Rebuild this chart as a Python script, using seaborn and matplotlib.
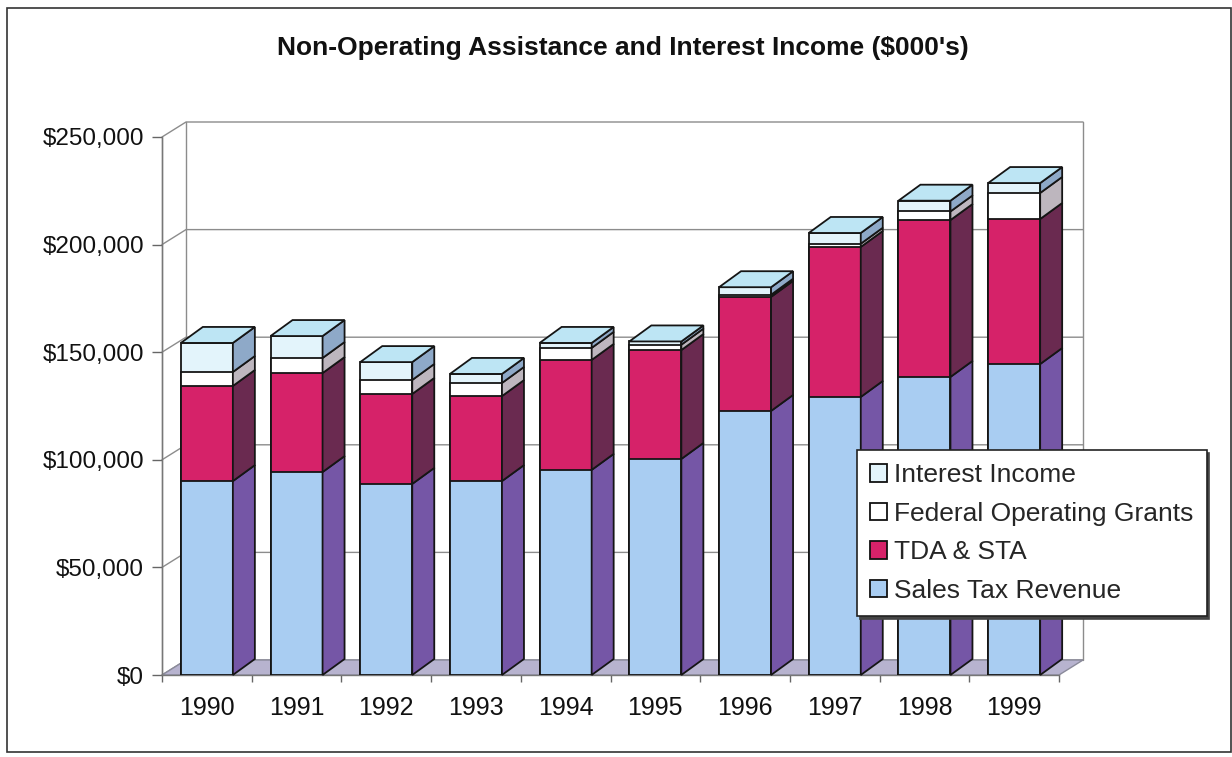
import numpy as np
import matplotlib
matplotlib.use("Agg")
import matplotlib.pyplot as plt
import seaborn as sns
from matplotlib.patches import Polygon, Patch, Rectangle
from matplotlib.ticker import FuncFormatter

# ---------------- data ($000's) ----------------
years = ["1990", "1991", "1992", "1993", "1994", "1995", "1996", "1997", "1998", "1999"]
sales_tax = [90100, 94300, 88800, 90100, 95300, 100400, 122700, 129200, 138500, 144500]
tda_sta = [44200, 46000, 41800, 39500, 51100, 50600, 53000, 69700, 72900, 67400]
federal_grants = [6500, 7000, 6500, 6100, 5600, 2500, 1000, 1500, 4000, 12100]
interest_income = [13500, 10200, 8300, 4200, 2300, 1500, 3500, 5000, 5000, 4600]

series_names = ["Sales Tax Revenue", "TDA & STA", "Federal Operating Grants", "Interest Income"]
front_colors = ["#a9cdf2", "#d62269", "#ffffff", "#e3f4fb"]
side_colors = ["#7556a6", "#6a2a50", "#bdb6be", "#8ea9c8"]
top_color = "#bde5f4"
yticks = [0, 50000, 100000, 150000, 200000, 250000]

# ---------------- figure ----------------
sns.set_theme(style="white")
plt.rcParams["font.family"] = ["Liberation Sans", "DejaVu Sans"]

W, H = 1232, 757
fig = plt.figure(figsize=(W / 100, H / 100), dpi=100)
ax_left, ax_right, ax_bottom, ax_top = 162, 1059, 675, 137
ax = fig.add_axes([ax_left / W, 1 - ax_bottom / H, (ax_right - ax_left) / W, (ax_bottom - ax_top) / H])

ymax = 250000
px_x = (ax_right - ax_left) / 10.0
px_y = (ax_bottom - ax_top) / ymax

bar_w = 0.58
dx_bar = 22 / px_x
dy_bar = 16 / px_y
dx_wall = 24 / px_x
dy_wall = 15 / px_y

layers = np.array([sales_tax, tda_sta, federal_grants, interest_income], dtype=float)
cum = np.cumsum(layers, axis=0)

# stacked front faces (tallest cumulative first)
for i in reversed(range(4)):
    sns.barplot(x=years, y=cum[i], order=years, color=front_colors[i], saturation=1,
                width=bar_w, edgecolor="#151515", linewidth=1.3, ax=ax, zorder=3)

xl, xr = -0.5, 9.5
# floor
ax.add_patch(Polygon([(xl, 0), (xr, 0), (xr + dx_wall, dy_wall), (xl + dx_wall, dy_wall)],
                     closed=True, fc="#b7b3cf", ec="#8a8a9a", lw=1, zorder=1, clip_on=False))
# back wall outline + gridlines
for v in yticks:
    ax.plot([xl, xl + dx_wall, xr + dx_wall], [v, v + dy_wall, v + dy_wall],
            color="#8c8c8c", lw=1, zorder=0.5, clip_on=False)
ax.plot([xl + dx_wall, xl + dx_wall], [dy_wall, ymax + dy_wall], color="#8c8c8c", lw=1, zorder=0.5, clip_on=False)
ax.plot([xr + dx_wall, xr + dx_wall], [dy_wall, ymax + dy_wall], color="#8c8c8c", lw=1, zorder=0.5, clip_on=False)
ax.plot([xl, xl], [0, ymax], color="#8c8c8c", lw=1, zorder=0.5, clip_on=False)

# side and top faces
for j in range(len(years)):
    x1 = j + bar_w / 2
    x0 = j - bar_w / 2
    for i in range(4):
        b = cum[i - 1][j] if i > 0 else 0.0
        t = cum[i][j]
        if t - b <= 0:
            continue
        ax.add_patch(Polygon([(x1, b), (x1 + dx_bar, b + dy_bar), (x1 + dx_bar, t + dy_bar), (x1, t)],
                             closed=True, fc=side_colors[i], ec="#151515", lw=1.3, zorder=3, clip_on=False))
    T = cum[-1][j]
    ax.add_patch(Polygon([(x0, T), (x1, T), (x1 + dx_bar, T + dy_bar), (x0 + dx_bar, T + dy_bar)],
                         closed=True, fc=top_color, ec="#151515", lw=1.3, zorder=3, clip_on=False))

ax.set_xlim(xl, xr)
ax.set_ylim(0, ymax)
ax.set_xlabel("")
ax.set_ylabel("")
ax.set_yticks(yticks)
ax.yaxis.set_major_formatter(FuncFormatter(lambda v, p: "${:,.0f}".format(v)))
ax.set_xticks(range(len(years)))
ax.set_xticklabels(years)
ax.set_xticks(np.arange(-0.5, 10, 1.0), minor=True)
ax.tick_params(axis="y", which="major", length=7, width=1, color="#666666", labelsize=17.5,
               pad=6, left=True, labelcolor="#111111")
ax.tick_params(axis="x", which="major", length=0, labelsize=18, pad=15, labelcolor="#111111")
ax.tick_params(axis="x", which="minor", length=5, width=1, color="#666666", bottom=True)
for s in ["top", "right"]:
    ax.spines[s].set_visible(False)
for s in ["left", "bottom"]:
    ax.spines[s].set_color("#777777")
    ax.spines[s].set_linewidth(1)
ax.set_facecolor("none")

# title
fig.text(623 / W, 1 - 48 / H, "Non-Operating Assistance and Interest Income ($000's)",
         ha="center", va="center", fontsize=19, fontweight="bold", color="#111111")

# legend
handles = [Patch(fc=front_colors[i], ec="#111111", lw=1.3, label=series_names[i]) for i in reversed(range(4))]
leg = fig.legend(handles=handles, loc="upper left", bbox_to_anchor=(857 / W, 1 - 450 / H),
                 fontsize=19, frameon=True, fancybox=False, shadow={"color": "#444444", "alpha": 1},
                 handlelength=0.65, handleheight=0.65, handletextpad=0.25, labelspacing=0.55,
                 borderpad=0.5, borderaxespad=0)
leg.get_frame().set_edgecolor("#222222")
leg.get_frame().set_linewidth(1.2)

# outer chart border
fig.add_artist(Rectangle((7 / W, 5 / H), 1 - 8 / W, 1 - 13 / H, transform=fig.transFigure,
                         fill=False, ec="#333333", lw=1.2))

fig.savefig("out.png", dpi=100)
